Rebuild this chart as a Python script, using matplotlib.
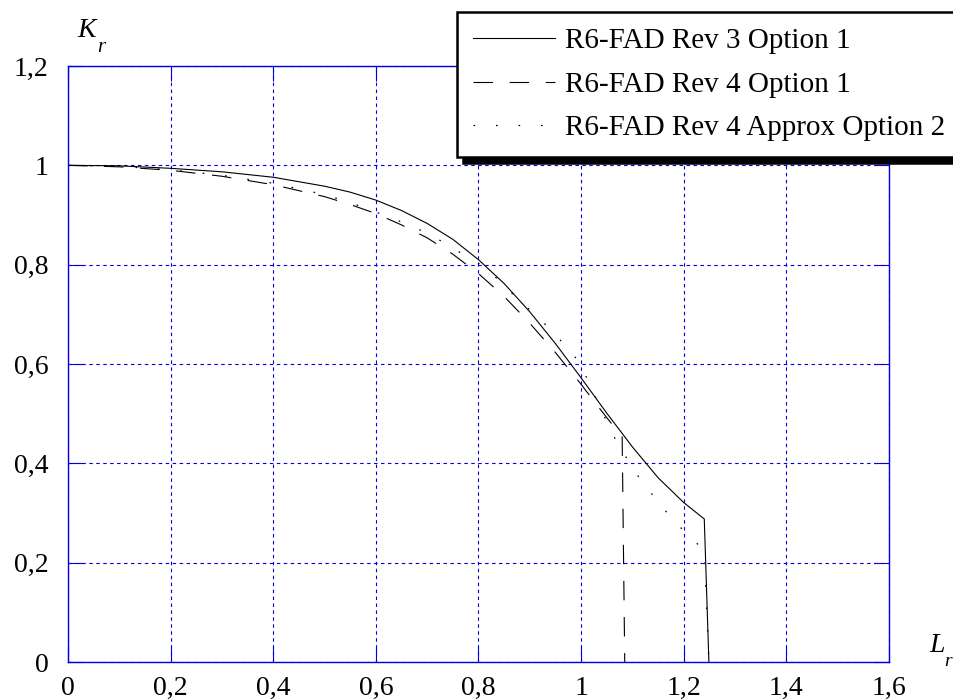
import matplotlib; matplotlib.use('Agg')
import matplotlib.pyplot as plt

# Failure assessment curves
lr_rev3 = [0.0, 0.1, 0.2, 0.3, 0.4, 0.5, 0.55, 0.6, 0.65, 0.7, 0.75, 0.8, 0.85, 0.9, 0.95,
           1.0, 1.05, 1.1, 1.15, 1.2, 1.24, 1.249]
kr_rev3 = [1.0, 0.999, 0.994, 0.987, 0.976, 0.958, 0.946, 0.930, 0.909, 0.883, 0.851, 0.810, 0.762, 0.705, 0.641,
           0.572, 0.501, 0.433, 0.371, 0.321, 0.288, 0.0]

lr_rev4 = [0.0, 0.1, 0.2, 0.3, 0.4, 0.5, 0.55, 0.6, 0.65, 0.7, 0.75, 0.8, 0.85, 0.9, 0.95,
           1.0, 1.02, 1.05, 1.08, 1.085]
kr_rev4 = [1.0, 0.997, 0.990, 0.978, 0.961, 0.937, 0.921, 0.903, 0.880, 0.854, 0.821, 0.782, 0.736, 0.682, 0.623,
           0.559, 0.532, 0.492, 0.453, 0.0]

lr_opt2 = [0.0, 0.1, 0.2, 0.3, 0.4, 0.5, 0.55, 0.6, 0.65, 0.68, 0.72, 0.75, 0.8, 0.83, 0.85, 0.9, 0.938, 0.971,
           1.001, 1.016, 1.035, 1.051, 1.071, 1.092, 1.118, 1.146, 1.178, 1.215, 1.24, 1.249]
kr_opt2 = [1.0, 0.998, 0.991, 0.980, 0.964, 0.941, 0.925, 0.906, 0.886, 0.873, 0.852, 0.833, 0.803, 0.778, 0.757, 0.709, 0.672, 0.635,
           0.598, 0.558, 0.519, 0.481, 0.440, 0.405, 0.363, 0.328, 0.287, 0.249, 0.225, 0.0]

series_labels = ['R6-FAD Rev 3 Option 1', 'R6-FAD Rev 4 Option 1', 'R6-FAD Rev 4 Approx Option 2']

x_ticks = [0.0, 0.2, 0.4, 0.6, 0.8, 1.0, 1.2, 1.4, 1.6]
x_tick_labels = ['0', '0,2', '0,4', '0,6', '0,8', '1', '1,2', '1,4', '1,6']
y_ticks = [0.0, 0.2, 0.4, 0.6, 0.8, 1.0, 1.2]
y_tick_labels = ['0', '0,2', '0,4', '0,6', '0,8', '1', '1,2']

plt.rcParams['font.family'] = ['Liberation Serif', 'DejaVu Serif']
plt.rcParams['lines.scale_dashes'] = False

W, H = 954, 699
fig = plt.figure(figsize=(W / 100, H / 100), dpi=100)
ax = fig.add_axes([68 / W, 37 / H, (889 - 68) / W, (662 - 66) / H])

blue = '#0000e0'

ax.plot(lr_rev3, kr_rev3, color='k', lw=0.8, label=series_labels[0])
ax.plot(lr_rev4, kr_rev4, color='k', lw=0.8, dashes=(14, 12), label=series_labels[1])
ax.plot(lr_opt2, kr_opt2, color='k', lw=0.9, dashes=(1.2, 15), label=series_labels[2])

ax.set_xlim(0, 1.6)
ax.set_ylim(0, 1.2)
ax.set_xticks(x_ticks)
ax.set_xticklabels(x_tick_labels)
ax.set_yticks(y_ticks)
ax.set_yticklabels(y_tick_labels)

# Blue dotted grid and blue frame with inward ticks on all sides
ax.grid(True, color=blue, lw=0.8, dashes=(2.5, 2.5))
for s in ax.spines.values():
    s.set_color(blue)
    s.set_linewidth(1.0)
ax.tick_params(direction='in', length=11, width=0.8, color=blue,
               top=True, right=True, labelsize=20, labelcolor='k')
ax.tick_params(axis='y', pad=14)
ax.tick_params(axis='x', pad=10)

# Axis names as in the source: italic letter with lowered subscript
fig.text(77 / W, 1 - 37 / H, 'K', style='italic', fontsize=20, va='baseline')
fig.text(97 / W, 1 - 52 / H, 'r', style='italic', fontsize=15, va='baseline')
fig.text(929 / W, 1 - 652 / H, 'L', style='italic', fontsize=20, va='baseline')
fig.text(944 / W, 1 - 666 / H, 'r', style='italic', fontsize=14, va='baseline')

leg = ax.legend(loc='upper left', bbox_to_anchor=(457 / W, 1 - 12 / H),
                bbox_transform=fig.transFigure, fontsize=21, fancybox=False,
                framealpha=1, edgecolor='k', borderpad=0.55, labelspacing=0.58,
                handlelength=2.8, handletextpad=0.34, borderaxespad=0,
                shadow={'ox': 4, 'oy': -4, 'facecolor': 'k', 'edgecolor': 'k', 'alpha': 1})
leg.get_frame().set_linewidth(1.8)

fig.savefig('out.png', dpi=100)
